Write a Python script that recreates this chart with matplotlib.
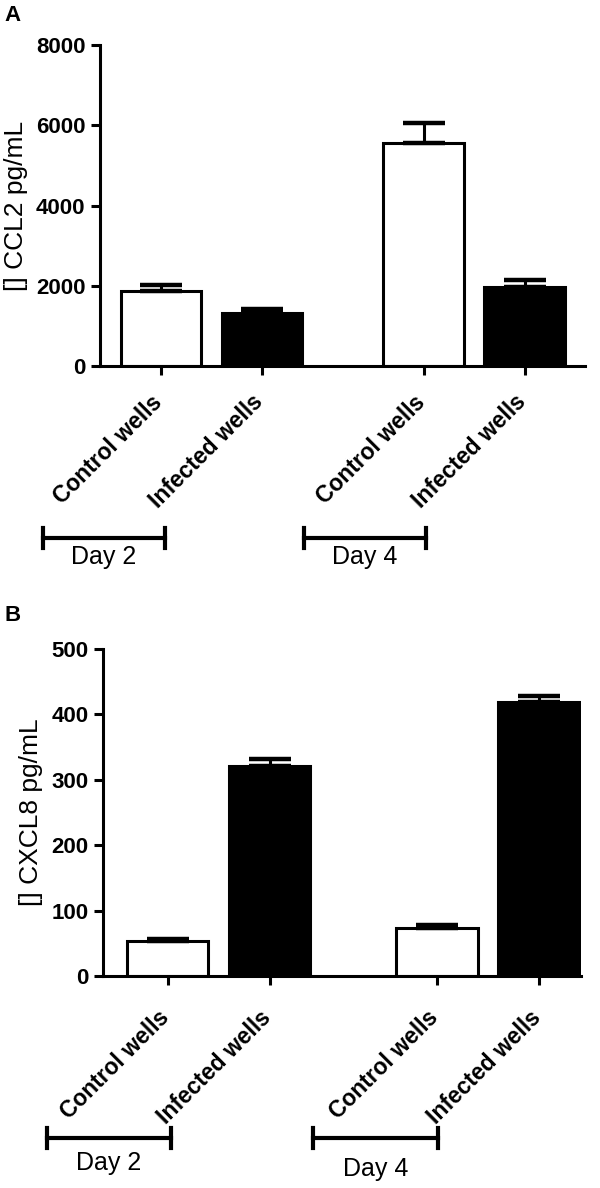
import numpy as np
import matplotlib
matplotlib.use("Agg")
import matplotlib.pyplot as plt
from matplotlib.lines import Line2D
from matplotlib.transforms import ScaledTranslation

plt.rcParams["font.family"] = ["Liberation Sans", "DejaVu Sans"]

# -----------------------------------------------------------------
# data
# -----------------------------------------------------------------
categories = ["Control wells", "Infected wells", "Control wells", "Infected wells"]
days = ["Day 2", "Day 4"]
bar_colors = ["white", "black", "white", "black"]

ccl2_mean = [1860, 1315, 5565, 1960]
ccl2_sem = [165, 110, 500, 190]
ccl2_ticks = [0, 2000, 4000, 6000, 8000]

cxcl8_mean = [54, 321, 73.5, 419]
cxcl8_sem = [3, 11, 4, 9]
cxcl8_ticks = [0, 100, 200, 300, 400, 500]

# -----------------------------------------------------------------
# layout helpers (pixel -> figure fraction)
# -----------------------------------------------------------------
W, H = 600, 1188
fig = plt.figure(figsize=(W / 100, H / 100), dpi=100)


def fx(px):
    return px / W


def fy(py):
    return 1 - py / H


def draw_panel(ax, means, sems, yticks, ylabel, positions, xlim, xpad):
    ax.bar(positions, means, width=0.8, color=bar_colors,
           edgecolor="black", linewidth=2.2, zorder=2)
    lower = np.zeros(len(means))
    ax.errorbar(positions, means, yerr=[lower, sems], fmt="none",
                ecolor="black", elinewidth=2.2, capsize=15, capthick=3.2,
                zorder=3)
    ax.set_xlim(*xlim)
    ax.set_ylim(yticks[0], yticks[-1])
    for side in ["top", "right"]:
        ax.spines[side].set_visible(False)
    for side in ["left", "bottom"]:
        ax.spines[side].set_linewidth(2.2)
    ax.tick_params(axis="both", direction="out", length=6.5, width=2.2)
    ax.tick_params(axis="y", pad=4)
    ax.set_yticks(yticks, labels=[str(t) for t in yticks],
                  fontsize=16, fontweight="bold")
    ax.set_xticks(positions, labels=categories, rotation=45, ha="right",
                  va="center", rotation_mode="anchor",
                  fontsize=16.5, fontweight="bold")
    ax.tick_params(axis="x", pad=xpad)
    shift = ScaledTranslation(-1.5 / 72, 0, fig.dpi_scale_trans)
    for lbl in ax.get_xticklabels():
        lbl.set_transform(lbl.get_transform() + shift)
    ax.set_ylabel(ylabel, fontsize=19, labelpad=6)


def draw_bracket(x0, x1, y, label, ty):
    fig.add_artist(Line2D([fx(x0), fx(x1)], [fy(y), fy(y)],
                          color="black", linewidth=3))
    for xx in (x0, x1):
        fig.add_artist(Line2D([fx(xx), fx(xx)], [fy(y - 10), fy(y + 10)],
                              color="black", linewidth=3))
    fig.text(fx((x0 + x1) / 2), fy(ty), label, fontsize=18,
             ha="center", va="center")


# Panel A - CCL2
ax_a = fig.add_axes([fx(100), fy(366), (585 - 100) / W, (366 - 45) / H])
draw_panel(ax_a, ccl2_mean, ccl2_sem, ccl2_ticks, "[] CCL2 pg/mL",
           [0, 1, 2.6, 3.6], (-0.604, 4.198), 17)
fig.text(fx(4), fy(5), "A", fontsize=16, fontweight="bold", va="top")
draw_bracket(43, 165, 538, days[0], 557)
draw_bracket(304, 426, 538, days[1], 557)

# Panel B - CXCL8
ax_b = fig.add_axes([fx(103), fy(976), (581 - 103) / W, (976 - 649) / H])
draw_panel(ax_b, cxcl8_mean, cxcl8_sem, cxcl8_ticks, "[] CXCL8 pg/mL",
           [0, 1, 2.64, 3.64], (-0.632, 4.05), 21)
fig.text(fx(4), fy(605), "B", fontsize=16, fontweight="bold", va="top")
draw_bracket(47, 171, 1138, days[0], 1163)
draw_bracket(313, 438, 1138, days[1], 1169)

fig.savefig("out.png", dpi=100, facecolor="white")
